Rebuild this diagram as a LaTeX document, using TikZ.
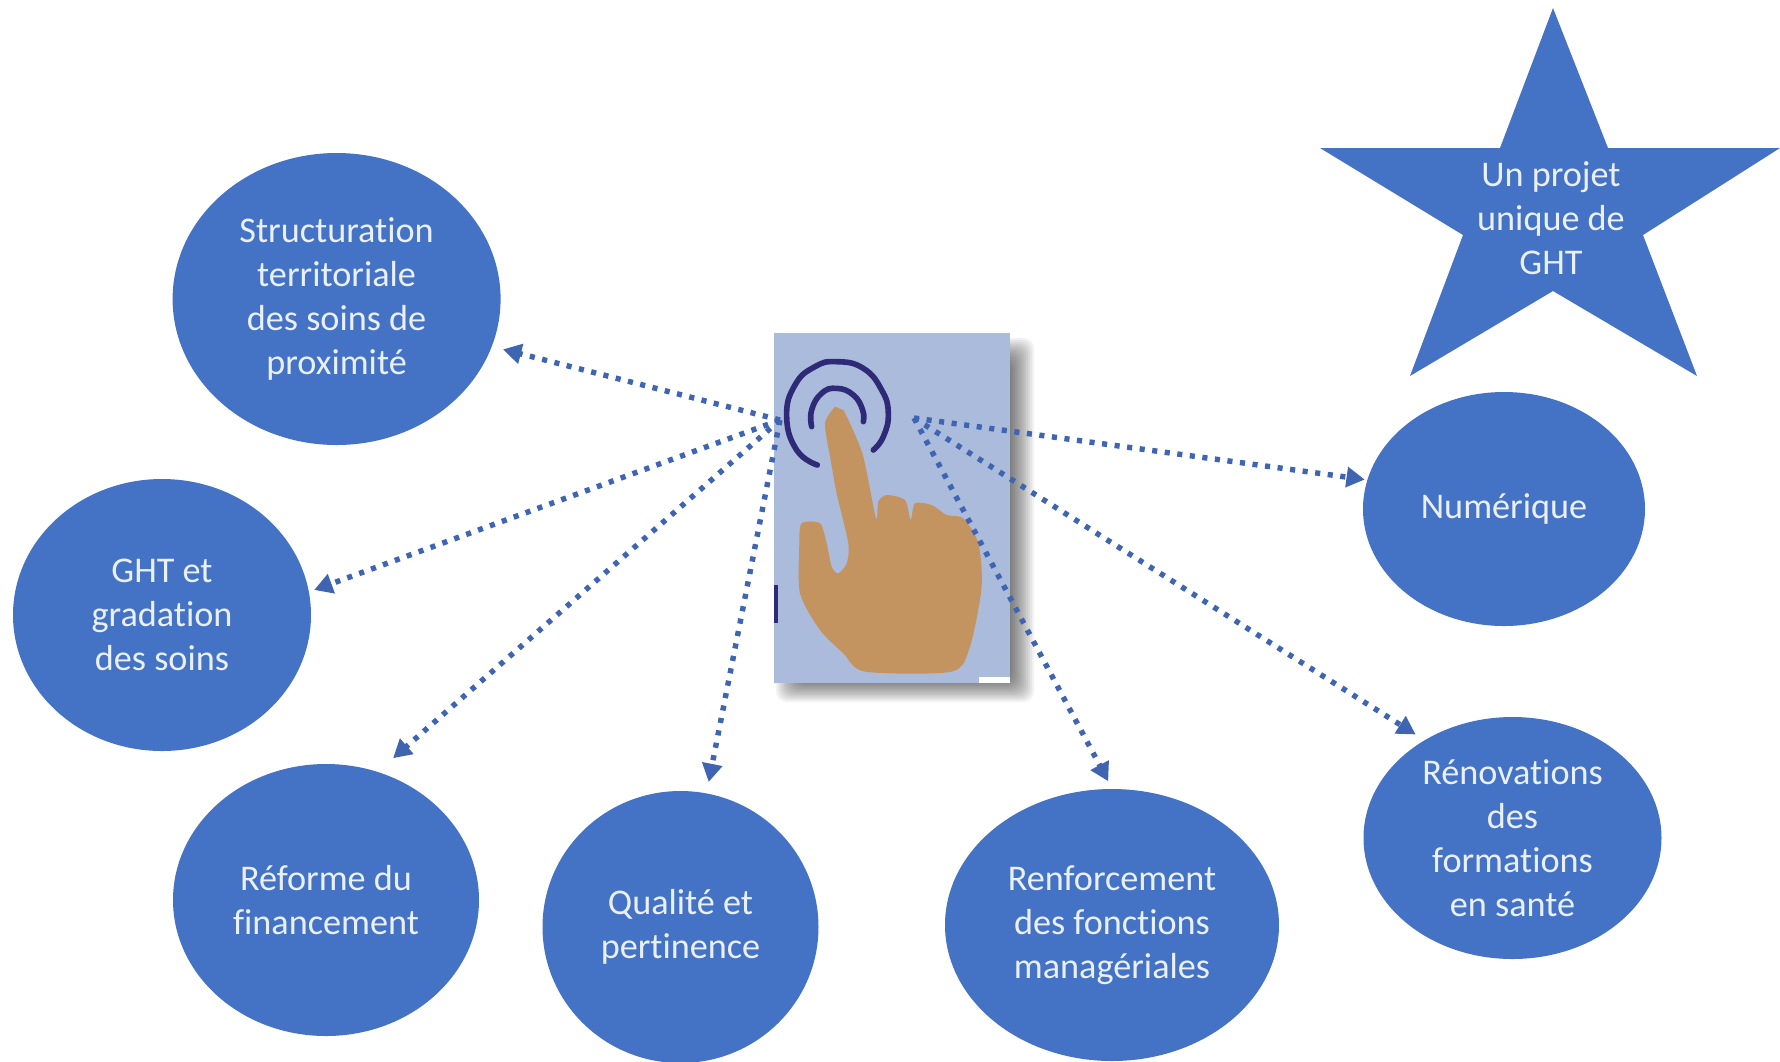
\documentclass[tikz,border=0pt]{standalone}
\usepackage{fontspec}
\setmainfont[Ligatures=NoCommon]{Carlito}
\usepackage{tikz}
\usetikzlibrary{arrows.meta}
\usetikzlibrary{shapes.geometric}
\definecolor{topicblue}{HTML}{4472C4}
\definecolor{dotblue}{HTML}{3F64B2}
\definecolor{labelwhite}{HTML}{EAF0FA}
\definecolor{cardblue}{HTML}{ABBBDB}
\definecolor{handtan}{HTML}{C49460}
\definecolor{ringblue}{HTML}{2F2A78}

\begin{document}
\begin{tikzpicture}
\tikzset{topic/.style = {shape=ellipse,fill=topicblue,text=labelwhite,align=center,inner sep=0pt,font=\fontsize{10.3pt}{12.5pt}\selectfont}}
\tikzset{link/.style = {-{Triangle[length=5.2pt,width=5.6pt]},dotblue,line width=1.55pt,dash pattern=on 1.45pt off 2.15pt}}
\tikzset{ring/.style = {ringblue,line width=1.6pt,line cap=round}}
\useasboundingbox (0,0) rectangle (17.8,-10.61);
\fill[white] (0,0) rectangle (17.8,-10.61);
\node[topic, minimum width=3.28cm, minimum height=2.92cm](structuration) at (3.366, -2.99) {Structuration\\territoriale\\des soins de\\proximité};
\node[topic, minimum width=2.98cm, minimum height=2.72cm](gradation) at (1.62, -6.15) {GHT et\\gradation\\des soins};
\node[topic, minimum width=3.06cm, minimum height=2.72cm](financement) at (3.26, -9.00) {Réforme du\\financement};
\node[topic, minimum width=2.76cm, minimum height=2.72cm](pertinence) at (6.805, -9.27) {Qualité et\\pertinence};
\node[topic, minimum width=3.34cm, minimum height=2.72cm](fonctions) at (11.12, -9.25) {Renforcement\\des fonctions\\managériales};
\node[topic, minimum width=2.98cm, minimum height=2.42cm](formations) at (15.125, -8.38) {Rénovations\\des\\formations\\en santé};
\node[topic, minimum width=2.82cm, minimum height=2.34cm](numerique) at (15.04, -5.09) {Numérique};
\fill[topicblue] (15.53,-0.08) -- (16.08,-1.48) -- (17.80,-1.48) -- (16.43,-2.35) -- (16.97,-3.76) -- (15.53,-2.91) -- (14.10,-3.76) -- (14.63,-2.35) -- (13.20,-1.48) -- (15.00,-1.48) -- cycle;
\node[topic, fill=none](projet) at (15.51, -2.18) {Un projet\\unique de\\GHT};
\foreach \k in {1,...,20}
  \fill[black, opacity=0.05, rounded corners=3pt] (8.15-\k*0.0195,-3.77+\k*0.0195) rectangle (9.95+\k*0.0195,-6.66-\k*0.018);
\node[fill=cardblue, minimum width=2.36cm, minimum height=3.50cm, inner sep=0pt](card) at (8.92, -5.08) {};
\begin{scope}[shift={(7.4,-3.1)}, x=1cm/300, y=-1cm/300]
\fill[handtan] plot[smooth, tension=0.45] coordinates {(285,290) (255,340) (272,450) (290,550) (325,700) (320,760) (295,790) (275,770) (260,700) (240,640) (185,640) (178,700) (180,850) (240,960) (310,1030) (375,1085) (635,1085) (690,1010) (725,830) (715,700) (670,625) (620,615) (575,585) (525,580) (512,630) (495,570) (440,555) (415,575) (408,625) (370,440) (330,340) (310,300)} -- cycle;
\draw[ring] plot[smooth, tension=0.8] coordinates {(232,465) (170,420) (140,320) (165,225) (225,170) (290,155) (370,175) (425,240) (445,310) (430,380) (400,420)};
\draw[ring] plot[smooth, tension=0.8] coordinates {(215,350) (215,300) (245,250) (290,235) (340,255) (368,300) (370,335)};
\fill[ringblue] (103,825) rectangle (115,940);
\fill[white] (718,1100) rectangle (810,1118);
\end{scope}
\coordinate (touchL) at (7.80, -4.20);
\coordinate (touchR) at (9.14, -4.18);
\draw[link, shorten >=.11cm] (touchL) -- (structuration.-17);
\draw[link, shorten >=.05cm] (touchL) -- (gradation.9);
\draw[link, shorten >=.20cm] (touchL) -- (financement.68);
\draw[link, shorten >=.11cm] (touchL) -- (pertinence.79);
\draw[link, shorten >=.08cm] (touchR) -- (fonctions.90);
\draw[link, shorten >=.10cm] (touchR) -- (formations.132);
\draw[link, shorten >=.02cm] (touchR) -- (numerique.168);
\end{tikzpicture}
\end{document}
